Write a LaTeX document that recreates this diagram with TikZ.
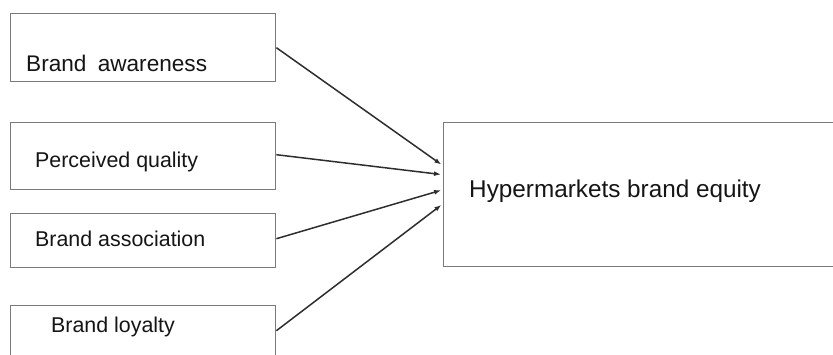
\documentclass[tikz,border=0pt]{standalone}
\usepackage{fontspec}
\setmainfont{Liberation Sans}
\usetikzlibrary{arrows.meta}
\definecolor{boxgray}{HTML}{7A7A7A}
\definecolor{linedark}{HTML}{2E2E2E}
\definecolor{txt}{HTML}{151515}
\begin{document}
\begin{tikzpicture}[x=1bp,y=-1bp,
  srcbox/.style={draw=boxgray,line width=1.4bp,rectangle,inner sep=0pt,anchor=north west,minimum width=265bp},
  lbl/.style={anchor=base west,inner sep=0pt,text=txt,font=\fontsize{21.4bp}{24bp}\selectfont},
  conn/.style={draw=linedark,line width=1.5bp,-{Latex[length=7bp,width=5bp]},shorten >=2bp}]
\clip (0,0) rectangle (833,354);
\fill[white] (0,0) rectangle (833,354);
% source boxes
\node[srcbox,minimum height=68bp] (aw) at (10,13) {};
\node[srcbox,minimum height=67bp] (pq) at (10,122) {};
\node[srcbox,minimum height=54bp] (as) at (10,213) {};
\node[srcbox,minimum height=50bp] (lo) at (10,305) {};
% target box
\node[draw=boxgray,line width=1.4bp,rectangle,inner sep=0pt,anchor=north west,minimum width=420bp,minimum height=144bp] (he) at (443,122) {};
% labels
\node[lbl,font=\fontsize{22.6bp}{26bp}\selectfont] (taw) at (26,71) {Brand\hspace{0.5em}awareness};
\node[lbl] (tpq) at (35,167) {Perceived quality};
\node[lbl] (tas) at (35,246) {Brand association};
\node[lbl] (tlo) at (51,332) {Brand loyalty};
\node[lbl,font=\fontsize{24.3bp}{27bp}\selectfont] (the) at (469,197) {Hypermarkets brand equity};
% connectors
\draw[conn] (aw.east) -- ([yshift=29bp]he.west);
\draw[conn] ([yshift=1.5bp]pq.east) -- ([yshift=20bp]he.west);
\draw[conn] ([yshift=2bp]as.east) -- ([yshift=5bp]he.west);
\draw[conn] (lo.east) -- ([yshift=-9bp]he.west);
\end{tikzpicture}
\end{document}
